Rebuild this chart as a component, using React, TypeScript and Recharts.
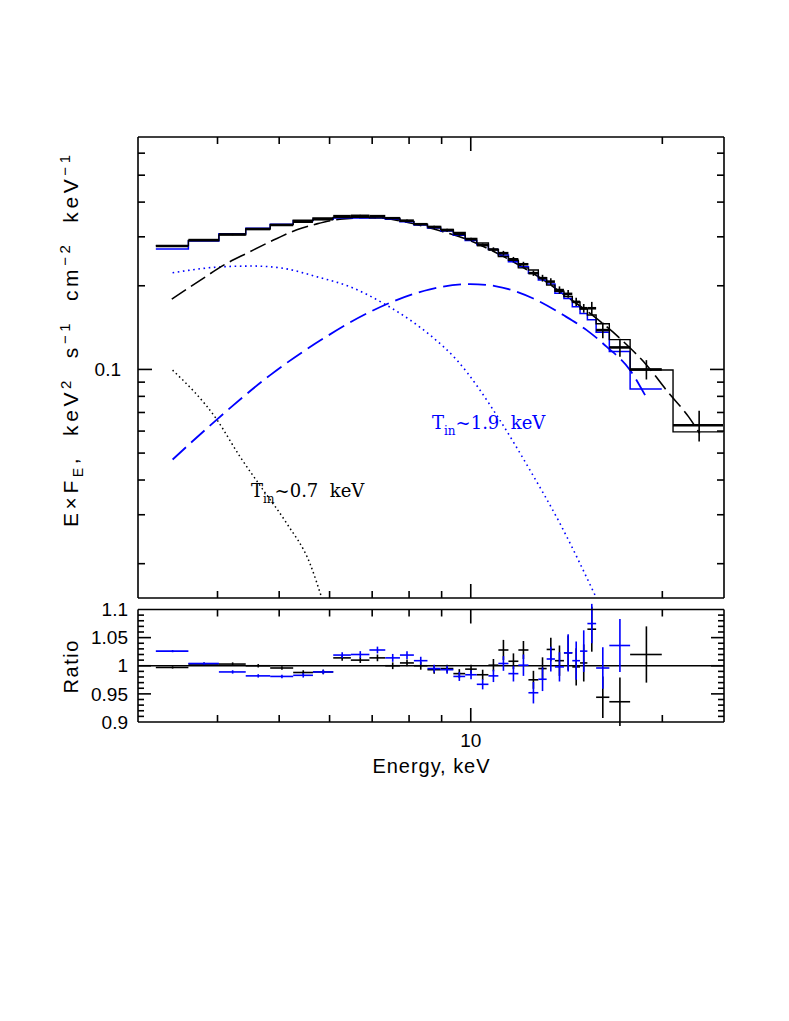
import React from 'react';
import { ComposedChart, Line, Scatter, ErrorBar, XAxis, YAxis, ReferenceLine } from 'recharts';

// energy bins (keV) shared by the spectrum and the ratio panel
const binEdges = [3.2, 3.6, 4.02, 4.43, 4.84, 5.26, 5.65, 6.08, 6.48, 6.93, 7.34, 7.74, 8.14, 8.55, 8.97, 9.39, 9.8,
  10.22, 10.66, 11.05, 11.46, 11.88, 12.32, 12.77, 13.16, 13.56, 14.01, 14.44, 14.85, 15.25, 15.74, 16.51, 17.8, 19.96];
// the spectrum has two more bins at the top end
const topEdges = [...binEdges, 20.79, 24.91];

// E x F_E, black data and models
const blackFlux = [0.278, 0.292, 0.306, 0.32, 0.331, 0.34, 0.347, 0.356, 0.357, 0.356, 0.35, 0.343, 0.333, 0.325, 0.317,
  0.307, 0.294, 0.28, 0.27, 0.262, 0.249, 0.239, 0.222, 0.213, 0.207, 0.193, 0.187, 0.175, 0.166, 0.166, 0.1385, 0.12,
  0.1, null, 0.063];
const blackFluxErr = [0.002, 0.002, 0.002, 0.002, 0.002, 0.002, 0.002, 0.003, 0.003, 0.003, 0.003, 0.003, 0.003, 0.004,
  0.004, 0.004, 0.004, 0.004, 0.005, 0.005, 0.005, 0.005, 0.005, 0.006, 0.006, 0.006, 0.006, 0.006, 0.006, 0.009, 0.009,
  0.009, 0.008, 0, 0.008];
const blackModel = [0.279, 0.291, 0.305, 0.32, 0.332, 0.344, 0.351, 0.352, 0.353, 0.351, 0.35, 0.341, 0.333, 0.327, 0.319,
  0.311, 0.296, 0.285, 0.27, 0.255, 0.247, 0.232, 0.228, 0.214, 0.201, 0.191, 0.183, 0.175, 0.165, 0.157, 0.146, 0.128,
  0.0995, 0.0995, 0.0596];
const blueModel = [0.271, 0.29, 0.308, 0.322, 0.333, 0.343, 0.347, 0.351, 0.351, 0.351, 0.347, 0.34, 0.331, 0.323, 0.315,
  0.304, 0.291, 0.281, 0.27, 0.258, 0.244, 0.234, 0.222, 0.21, 0.203, 0.188, 0.18, 0.168, 0.159, 0.151, 0.136, 0.116, 0.085];

// model components
const compDashE = [3.39, 3.73, 4.14, 4.45, 4.96, 5.33, 5.73, 6.23, 7.0, 8.0, 9.0, 10.0, 11.0, 12.0, 13.0, 14.0, 15.4, 17.5,
  18.9, 20.4, 22.0, 22.9];
const compDashF = [0.179, 0.207, 0.241, 0.262, 0.296, 0.318, 0.334, 0.347, 0.352, 0.337, 0.314, 0.29, 0.262, 0.235, 0.21,
  0.186, 0.159, 0.124, 0.1036, 0.083, 0.0675, 0.0588];
const blueDashE = [3.4, 3.99, 4.84, 5.87, 6.95, 8.63, 9.97, 10.92, 12.54, 13.98, 15.21, 16.36, 17.8, 18.79];
const blueDashF = [0.0474, 0.066, 0.0954, 0.1293, 0.1612, 0.1942, 0.2029, 0.1995, 0.18, 0.1569, 0.1385, 0.1206, 0.0994, 0.0808];
const hotDiskE = [3.4, 4.09, 4.55, 5.08, 5.73, 6.46, 7.29, 8.03, 8.63, 9.51, 11.11, 12.39, 13.81, 15.68];
const hotDiskF = [0.2228, 0.2342, 0.2355, 0.231, 0.2155, 0.1984, 0.1729, 0.1505, 0.1329, 0.108, 0.0657, 0.0434, 0.0279, 0.0154];
const coolDiskE = [3.4, 3.99, 4.34, 4.72, 5.14, 5.59, 5.83];
const coolDiskF = [0.0994, 0.066, 0.0485, 0.0368, 0.0279, 0.02, 0.0151];

// data / model ratio
const blackRatio = [0.997, 1.003, 1.003, 1.0, 0.996, 0.988, 0.989, 1.014, 1.01, 1.014, 1.0, 1.005, 1.0, 0.993, 0.995, 0.986,
  0.994, 0.984, 1.001, 1.028, 1.008, 1.028, 0.975, 0.995, 1.029, 1.009, 1.023, 0.998, 1.005, 1.065, 0.944, 0.936, 1.02];
const blackRatioErr = [0.002, 0.003, 0.003, 0.003, 0.003, 0.004, 0.004, 0.005, 0.005, 0.006, 0.006, 0.006, 0.007, 0.007,
  0.007, 0.008, 0.008, 0.009, 0.011, 0.018, 0.014, 0.016, 0.016, 0.02, 0.021, 0.027, 0.031, 0.033, 0.033, 0.04, 0.037, 0.043, 0.05];
const blueRatio = [1.026, 1.004, 0.989, 0.982, 0.981, 0.983, 0.989, 1.019, 1.02, 1.028, 1.014, 1.019, 1.009, 0.995, 0.993,
  0.981, 0.984, 0.967, 0.982, 1.004, 0.986, 1.001, 0.952, 0.976, 1.012, 0.998, 1.023, 1.009, 1.026, 1.075, 0.996, 1.036];
const blueRatioErr = [0.002, 0.002, 0.003, 0.003, 0.003, 0.004, 0.004, 0.005, 0.006, 0.006, 0.007, 0.007, 0.007, 0.007,
  0.007, 0.008, 0.008, 0.009, 0.011, 0.013, 0.014, 0.019, 0.019, 0.021, 0.022, 0.026, 0.033, 0.034, 0.037, 0.035, 0.037, 0.047];

// ticks
const X_DOMAIN = [3, 25];
const X_MINOR = [4, 5, 6, 7, 8, 9, 20];
const X_MAJOR = [10];
const FLUX_DOMAIN = [0.01505, 0.686];
const FLUX_MINOR = [0.02, 0.03, 0.04, 0.05, 0.06, 0.07, 0.08, 0.09, 0.2, 0.3, 0.4, 0.5, 0.6];
const FLUX_MAJOR = [0.1];
const RATIO_DOMAIN = [0.9, 1.1];
const RATIO_MINOR = [0.91, 0.92, 0.93, 0.94, 0.96, 0.97, 0.98, 0.99, 1.01, 1.02, 1.03, 1.04, 1.06, 1.07, 1.08, 1.09];
const RATIO_MAJOR = [0.95, 1, 1.05];
const RATIO_LABELS = [0.9, 0.95, 1, 1.05, 1.1];

const BLUE = '#0000ff';
const frame = { stroke: '#000', strokeWidth: 1.6 };
const labelFont = { fill: '#000', fontSize: 19, fontFamily: 'Liberation Sans, Arial, sans-serif' };
const sans = 'Liberation Sans, Arial, sans-serif';
const serif = 'DejaVu Serif, serif';

const stepRows = (edges: number[], vals: number[]) => {
  const rows = vals.map((v, i) => ({ x: edges[i], y: v }));
  rows.push({ x: edges[vals.length], y: vals[vals.length - 1] });
  return rows;
};
const crossRows = (edges: number[], vals: (number | null)[], errs: number[]) =>
  vals
    .map((v, i) => v == null ? null : {
      x: (edges[i] + edges[i + 1]) / 2,
      y: v,
      ex: (edges[i + 1] - edges[i]) / 2,
      ey: errs[i],
    })
    .filter(Boolean) as { x: number; y: number; ex: number; ey: number }[];
const curveRows = (xs: number[], ys: number[]) => xs.map((x, i) => ({ x, y: ys[i] }));

// tick lines only, no text
const blankTick = () => <g />;
const xBase = { type: 'number' as const, scale: 'log' as const, domain: X_DOMAIN, allowDataOverflow: true, dataKey: 'x', interval: 0 as const };
const noShape = () => <g />;

function SpectrumPanel() {
  const yBase = { type: 'number' as const, scale: 'log' as const, domain: FLUX_DOMAIN, allowDataOverflow: true, interval: 0 as const };
  const line = { xAxisId: 'x', yAxisId: 'y', dataKey: 'y', dot: false, activeDot: false, isAnimationActive: false } as const;
  return (
    <ComposedChart width={789} height={610} margin={{ top: 137, right: 65, bottom: 12, left: 98 }}>
      <XAxis {...xBase} xAxisId="x" orientation="bottom" mirror height={0.01} ticks={X_MINOR} tickSize={7} tick={blankTick} axisLine={frame} tickLine={frame} />
      <XAxis {...xBase} xAxisId="xM" orientation="bottom" mirror height={0.01} ticks={X_MAJOR} tickSize={14} tick={blankTick} axisLine={false} tickLine={frame} />
      <XAxis {...xBase} xAxisId="xT" orientation="top" mirror height={0.01} ticks={X_MINOR} tickSize={7} tick={blankTick} axisLine={frame} tickLine={frame} />
      <XAxis {...xBase} xAxisId="xTM" orientation="top" mirror height={0.01} ticks={X_MAJOR} tickSize={14} tick={blankTick} axisLine={false} tickLine={frame} />
      <YAxis {...yBase} yAxisId="y" orientation="left" mirror width={0.01} ticks={FLUX_MINOR} tickSize={7} tick={blankTick} axisLine={frame} tickLine={frame} />
      <YAxis {...yBase} yAxisId="yM" orientation="left" mirror width={0.01} ticks={FLUX_MAJOR} tickSize={14} tick={blankTick} axisLine={false} tickLine={frame} />
      <YAxis {...yBase} yAxisId="yL" orientation="left" width={40} ticks={FLUX_MAJOR} tickSize={0} tickMargin={17} tick={labelFont} axisLine={false} tickLine={false} />
      <YAxis {...yBase} yAxisId="yR" orientation="right" mirror width={0.01} ticks={FLUX_MINOR} tickSize={7} tick={blankTick} axisLine={frame} tickLine={frame} />
      <YAxis {...yBase} yAxisId="yRM" orientation="right" mirror width={0.01} ticks={FLUX_MAJOR} tickSize={14} tick={blankTick} axisLine={false} tickLine={frame} />

      <Line {...line} data={curveRows(hotDiskE, hotDiskF)} type="monotone" stroke={BLUE} strokeWidth={1.6} strokeDasharray="1.6 3.6" />
      <Line {...line} data={curveRows(coolDiskE, coolDiskF)} type="monotone" stroke="#000" strokeWidth={1.5} strokeDasharray="1.5 3" />
      <Line {...line} data={curveRows(blueDashE, blueDashF)} type="monotone" stroke={BLUE} strokeWidth={1.8} strokeDasharray="18 7" />
      <Line {...line} data={curveRows(compDashE, compDashF)} type="monotone" stroke="#000" strokeWidth={1.6} strokeDasharray="17 6" />
      <Line {...line} data={stepRows(binEdges, blueModel)} type="stepAfter" stroke={BLUE} strokeWidth={1.5} />
      <Line {...line} data={stepRows(topEdges, blackModel)} type="stepAfter" stroke="#000" strokeWidth={1.4} />
      <Scatter xAxisId="x" yAxisId="y" dataKey="y" data={crossRows(topEdges, blackFlux, blackFluxErr)} shape={noShape} isAnimationActive={false}>
        <ErrorBar dataKey="ex" direction="x" width={0} stroke="#000" strokeWidth={2.6} isAnimationActive={false} />
        <ErrorBar dataKey="ey" direction="y" width={0} stroke="#000" strokeWidth={1.6} isAnimationActive={false} />
      </Scatter>
    </ComposedChart>
  );
}

function RatioPanel() {
  const yBase = { type: 'number' as const, domain: RATIO_DOMAIN, allowDataOverflow: true, interval: 0 as const };
  return (
    <ComposedChart width={789} height={200} margin={{ top: 9.5, right: 65, bottom: 48, left: 98 }}>
      <XAxis {...xBase} xAxisId="x" orientation="bottom" mirror height={0.01} ticks={X_MINOR} tickSize={7} tick={blankTick} axisLine={frame} tickLine={frame} />
      <XAxis {...xBase} xAxisId="xM" orientation="bottom" mirror height={0.01} ticks={X_MAJOR} tickSize={14} tick={blankTick} axisLine={false} tickLine={frame} />
      <XAxis {...xBase} xAxisId="xL" orientation="bottom" height={30} ticks={X_MAJOR} tickSize={0} tickMargin={12} tick={labelFont} axisLine={false} tickLine={false} />
      <XAxis {...xBase} xAxisId="xT" orientation="top" mirror height={0.01} ticks={X_MINOR} tickSize={7} tick={blankTick} axisLine={frame} tickLine={frame} />
      <XAxis {...xBase} xAxisId="xTM" orientation="top" mirror height={0.01} ticks={X_MAJOR} tickSize={14} tick={blankTick} axisLine={false} tickLine={frame} />
      <YAxis {...yBase} yAxisId="y" orientation="left" mirror width={0.01} ticks={RATIO_MINOR} tickSize={6} tick={blankTick} axisLine={frame} tickLine={frame} />
      <YAxis {...yBase} yAxisId="yM" orientation="left" mirror width={0.01} ticks={RATIO_MAJOR} tickSize={13} tick={blankTick} axisLine={false} tickLine={frame} />
      <YAxis {...yBase} yAxisId="yL" orientation="left" width={40} ticks={RATIO_LABELS} tickSize={0} tickMargin={10} tick={labelFont} axisLine={false} tickLine={false} />
      <YAxis {...yBase} yAxisId="yR" orientation="right" mirror width={0.01} ticks={RATIO_MINOR} tickSize={6} tick={blankTick} axisLine={frame} tickLine={frame} />
      <YAxis {...yBase} yAxisId="yRM" orientation="right" mirror width={0.01} ticks={RATIO_MAJOR} tickSize={13} tick={blankTick} axisLine={false} tickLine={frame} />

      <ReferenceLine xAxisId="x" yAxisId="y" y={1} stroke="#000" strokeWidth={1.6} />
      <Scatter xAxisId="x" yAxisId="y" dataKey="y" data={crossRows(binEdges, blackRatio, blackRatioErr)} shape={noShape} isAnimationActive={false}>
        <ErrorBar dataKey="ex" direction="x" width={0} stroke="#000" strokeWidth={1.6} isAnimationActive={false} />
        <ErrorBar dataKey="ey" direction="y" width={0} stroke="#000" strokeWidth={1.6} isAnimationActive={false} />
      </Scatter>
      <Scatter xAxisId="x" yAxisId="y" dataKey="y" data={crossRows(binEdges, blueRatio, blueRatioErr)} shape={noShape} isAnimationActive={false}>
        <ErrorBar dataKey="ex" direction="x" width={0} stroke={BLUE} strokeWidth={1.6} isAnimationActive={false} />
        <ErrorBar dataKey="ey" direction="y" width={0} stroke={BLUE} strokeWidth={1.6} isAnimationActive={false} />
      </Scatter>
    </ComposedChart>
  );
}

export default function App() {
  return (
    <div style={{ position: 'absolute', left: 0, top: 0, width: 789, height: 1021, background: '#fff' }}>
      <div style={{ position: 'absolute', left: 0, top: 0 }}>
        <SpectrumPanel />
      </div>
      <div style={{ position: 'absolute', left: 0, top: 600 }}>
        <RatioPanel />
      </div>
      <svg width={789} height={1021} style={{ position: 'absolute', left: 0, top: 0, pointerEvents: 'none' }}>
        <text x={78} y={341} transform="rotate(-90 78 341)" textAnchor="middle" fontFamily={sans} fontSize={21}
          textLength={372} lengthAdjust="spacing" style={{ whiteSpace: 'pre' }}>
          E×F<tspan fontSize={14} dy={5}>E</tspan>
          <tspan dy={-5}>,  keV</tspan><tspan fontSize={15} dy={-7}>2</tspan>
          <tspan dy={7}>  s</tspan><tspan fontSize={15} dy={-8}>−1</tspan>
          <tspan dy={8}>  cm</tspan><tspan fontSize={15} dy={-8}>−2</tspan>
          <tspan dy={8}>  keV</tspan><tspan fontSize={15} dy={-8}>−1</tspan>
        </text>
        <text x={78} y={667} transform="rotate(-90 78 667)" textAnchor="middle" fontFamily={sans} fontSize={20}
          textLength={53} lengthAdjust="spacing">Ratio</text>
        <text x={431} y={773} textAnchor="middle" fontFamily={sans} fontSize={20} textLength={117} lengthAdjust="spacing">Energy, keV</text>
        <text x={251} y={497} fontFamily={serif} fontSize={18} fill="#000" style={{ whiteSpace: 'pre' }}>
          T<tspan fontSize={12} dy={6}>in</tspan><tspan dy={-6}>~0.7  keV</tspan>
        </text>
        <text x={432} y={429} fontFamily={serif} fontSize={18} fill={BLUE} style={{ whiteSpace: 'pre' }}>
          T<tspan fontSize={12} dy={6}>in</tspan><tspan dy={-6}>~1.9  keV</tspan>
        </text>
      </svg>
    </div>
  );
}
